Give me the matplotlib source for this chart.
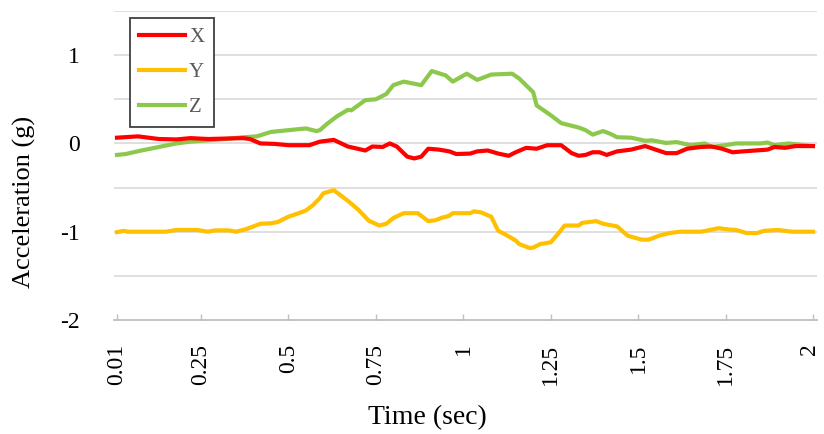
import matplotlib
matplotlib.use("Agg")
from matplotlib import pyplot as plt
from matplotlib.transforms import ScaledTranslation

plt.rcParams['font.family'] = ['Liberation Serif', 'DejaVu Serif']

# values (time in sec, acceleration in g)
x_time = [0.01, 0.07, 0.13, 0.18, 0.22, 0.27, 0.32, 0.37, 0.39, 0.42, 0.46, 0.50,
          0.56, 0.59, 0.63, 0.67, 0.72, 0.74, 0.77, 0.79, 0.81, 0.84, 0.86, 0.88,
          0.90, 0.93, 0.96, 0.98, 1.02, 1.04, 1.07, 1.10, 1.13, 1.15, 1.18, 1.21,
          1.24, 1.28, 1.31, 1.33, 1.35, 1.37, 1.39, 1.41, 1.44, 1.48, 1.52, 1.55,
          1.58, 1.61, 1.64, 1.68, 1.71, 1.74, 1.77, 1.80, 1.87, 1.89, 1.92, 1.95, 2.00]
x_acc = [0.065, 0.08, 0.05, 0.045, 0.06, 0.05, 0.055, 0.06, 0.05, 0.00, -0.005, -0.02,
         -0.02, 0.02, 0.04, -0.035, -0.08, -0.035, -0.04, 0.00, -0.035, -0.15, -0.17, -0.15,
         -0.06, -0.07, -0.09, -0.12, -0.115, -0.09, -0.08, -0.115, -0.14, -0.10, -0.05, -0.06,
         -0.02, -0.02, -0.11, -0.14, -0.13, -0.10, -0.10, -0.13, -0.09, -0.07, -0.03, -0.07,
         -0.11, -0.11, -0.06, -0.04, -0.035, -0.06, -0.10, -0.09, -0.07, -0.04, -0.05, -0.03, -0.03]

y_time = [0.01, 0.03, 0.04, 0.15, 0.18, 0.24, 0.27, 0.29, 0.33, 0.35, 0.38, 0.40,
          0.42, 0.45, 0.47, 0.50, 0.53, 0.55, 0.57, 0.59, 0.60, 0.63, 0.65, 0.67,
          0.70, 0.73, 0.76, 0.78, 0.80, 0.83, 0.87, 0.90, 0.92, 0.94, 0.96, 0.97,
          1.02, 1.03, 1.05, 1.08, 1.10, 1.12, 1.15, 1.16, 1.19, 1.20, 1.22, 1.25,
          1.27, 1.29, 1.33, 1.34, 1.38, 1.40, 1.44, 1.47, 1.51, 1.53, 1.56, 1.59,
          1.62, 1.68, 1.70, 1.73, 1.76, 1.78, 1.81, 1.84, 1.86, 1.90, 1.94, 2.00]
y_acc = [-1.005, -0.99, -1.0, -1.0, -0.98, -0.98, -1.0, -0.985, -0.985, -1.0, -0.97, -0.94,
         -0.91, -0.905, -0.89, -0.83, -0.79, -0.76, -0.70, -0.62, -0.565, -0.53, -0.59, -0.65,
         -0.75, -0.875, -0.93, -0.91, -0.845, -0.79, -0.79, -0.88, -0.87, -0.84, -0.82, -0.79,
         -0.79, -0.77, -0.78, -0.83, -0.99, -1.03, -1.10, -1.14, -1.185, -1.18, -1.14, -1.12,
         -1.03, -0.93, -0.93, -0.90, -0.88, -0.91, -0.94, -1.045, -1.09, -1.09, -1.045, -1.015,
         -1.0, -1.0, -0.985, -0.96, -0.975, -0.98, -1.015, -1.015, -0.99, -0.98, -1.0, -1.0]

z_time = [0.01, 0.035, 0.08, 0.13, 0.18, 0.22, 0.27, 0.32, 0.37, 0.41, 0.45, 0.50,
          0.55, 0.58, 0.59, 0.61, 0.64, 0.67, 0.68, 0.72, 0.75, 0.78, 0.80, 0.83,
          0.88, 0.91, 0.95, 0.97, 1.01, 1.04, 1.08, 1.14, 1.16, 1.20, 1.21, 1.25,
          1.28, 1.31, 1.33, 1.35, 1.37, 1.40, 1.42, 1.44, 1.48, 1.52, 1.54, 1.58,
          1.61, 1.65, 1.69, 1.71, 1.75, 1.78, 1.85, 1.87, 1.89, 1.93, 2.00]
z_acc = [-0.13, -0.12, -0.08, -0.04, 0.0, 0.02, 0.035, 0.05, 0.07, 0.08, 0.13, 0.15,
         0.17, 0.14, 0.15, 0.22, 0.31, 0.38, 0.375, 0.49, 0.50, 0.56, 0.66, 0.70,
         0.66, 0.82, 0.77, 0.70, 0.79, 0.72, 0.78, 0.79, 0.735, 0.58, 0.43, 0.32,
         0.23, 0.20, 0.18, 0.15, 0.10, 0.14, 0.11, 0.07, 0.065, 0.03, 0.035, 0.005,
         0.015, -0.02, 0.0, -0.04, -0.02, 0.0, 0.0, 0.01, -0.02, 0.0, -0.03]

tick_pos = [0.01, 0.25, 0.5, 0.75, 1.0, 1.25, 1.5, 1.75, 2.0]
tick_labels = ['0.01', '0.25', '0.5', '0.75', '1', '1.25', '1.5', '1.75', '2']
y_ticks = [-2, -1, 0, 1]
y_labels = ['-2', '-1', '0', '1']

fig = plt.figure(figsize=(8.24, 4.34), dpi=100)
ax = fig.add_axes([113.5 / 824, 1 - 320 / 434, 703.5 / 824, 309 / 434])

ax.plot(x_time, x_acc, color='#FF0000', lw=3.0, label='X', zorder=5)
ax.plot(y_time, y_acc, color='#FFC000', lw=3.0, label='Y', zorder=4)
ax.plot(z_time, z_acc, color='#8CC84B', lw=3.0, label='Z', zorder=3)

ax.set_xlim(0.0, 2.0115)
ax.set_ylim(-2, 1.5)

# gridlines every 0.5, labels every 1
for g in [-1.5, -1, -0.5, 0, 0.5, 1, 1.5]:
    ax.axhline(g, color='#D9D9D9', lw=1.2, zorder=1)

for s in ['top', 'right', 'left']:
    ax.spines[s].set_visible(False)
ax.spines['bottom'].set_color('#BFBFBF')
ax.spines['bottom'].set_linewidth(1.3)

ax.set_xticks(tick_pos)
ax.set_xticklabels(tick_labels, rotation=90, fontsize=17)
ax.tick_params(axis='x', direction='in', length=4, width=1, color='#BFBFBF', pad=17)
# keep the last label inside the canvas
last = ax.get_xticklabels()[-1]
last.set_transform(last.get_transform() + ScaledTranslation(-3 / 100, 0, fig.dpi_scale_trans))

ax.set_yticks(y_ticks)
ax.set_yticklabels(y_labels, fontsize=17)
ax.tick_params(axis='y', length=0, pad=24)

fig.text(427 / 824, 1 - 418 / 434, 'Time (sec)', fontsize=20, ha='center', va='center')
fig.text(24 / 824, 1 - 202 / 434, 'Acceleration (g)', fontsize=19, rotation=90,
         ha='center', va='center')

leg = ax.legend(loc='upper left', bbox_to_anchor=(0.023, 0.977), bbox_transform=ax.transAxes,
                borderaxespad=0, fancybox=False, framealpha=1, edgecolor='#404040',
                fontsize=15, handlelength=2.2, handletextpad=0.2, labelspacing=0.75,
                borderpad=0.45)
leg.get_frame().set_linewidth(1.3)
for t in leg.get_texts():
    t.set_color('#595959')

fig.savefig('out.png', dpi=100)
